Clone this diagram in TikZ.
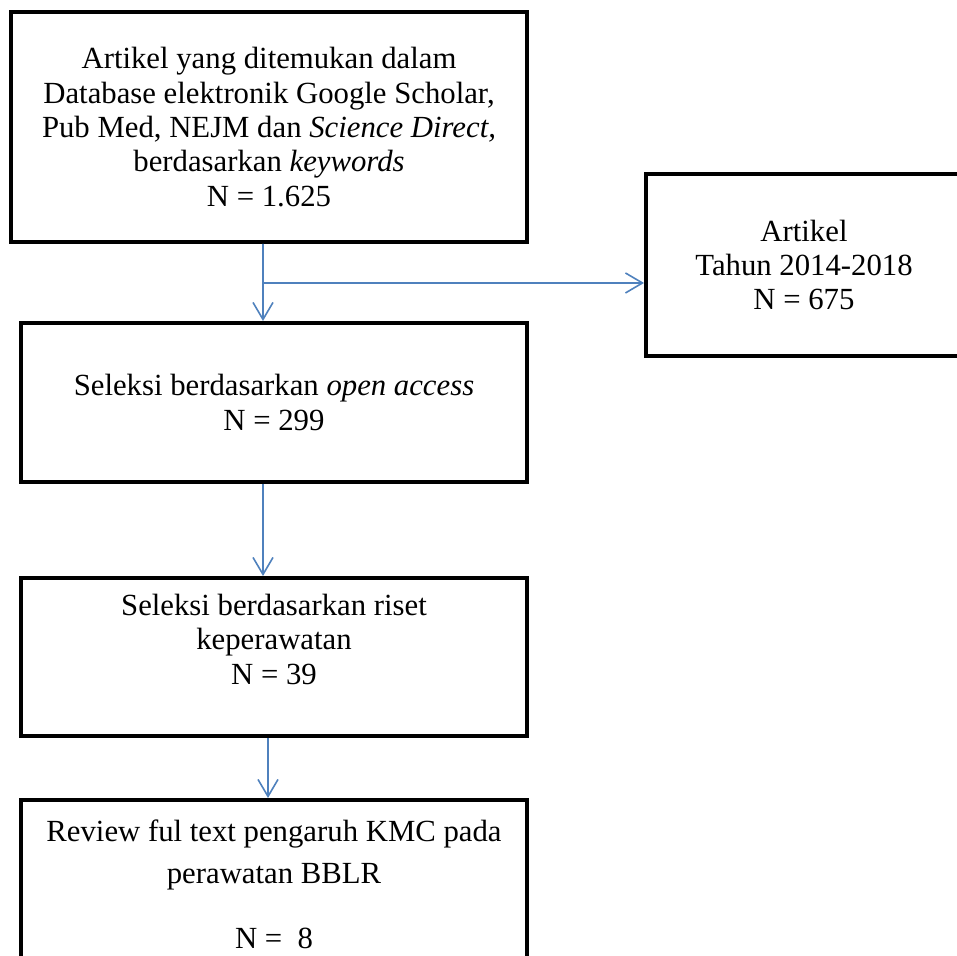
\documentclass[tikz,border=0pt]{standalone}
\usepackage{fontspec}
\setmainfont{Liberation Serif}
\usetikzlibrary{arrows.meta,positioning}
\definecolor{garisbiru}{RGB}{79,129,189}
\tikzset{
  box/.style={draw=black, line width=0.08cm, rectangle, inner sep=0pt, align=center,
    font=\fontsize{17.5}{19.6}\selectfont},
  arrow/.style={draw=garisbiru, line width=0.032cm,
    arrows={-Straight Barb[length=0.34cm,width=0.4cm]}}
}

\begin{document}
\begin{tikzpicture}[x=0.02cm, y=-0.02cm]
\useasboundingbox (0, 0) rectangle (957, 956);
\clip (0, 0) rectangle (957, 956);

\node[box, minimum width=10.32cm, minimum height=4.6cm] (artikel) at (269, 127)
  {Artikel yang ditemukan dalam\\Database elektronik Google Scholar,\\Pub Med, NEJM dan \textit{Science Direct,}\\berdasarkan \textit{keywords}\\N = 1.625};
\node[box, minimum width=6.32cm, minimum height=3.64cm] (tahun) at (804, 265)
  {Artikel\\Tahun 2014-2018\\N = 675};
\node[box, minimum width=10.12cm, minimum height=3.18cm] (akses) at (274, 402.5)
  {Seleksi berdasarkan \textit{open access}\\N = 299};
\node[box, minimum width=10.12cm, minimum height=3.16cm, text depth=0.72cm] (riset) at (274, 657)
  {Seleksi berdasarkan riset\\keperawatan\\N = 39};
\node[box, minimum width=10.12cm, minimum height=3.36cm] (review) at (274, 884)
  {Review ful text pengaruh KMC pada\\[0.15cm]perawatan BBLR\\[0.61cm]N = \ 8};

\coordinate (cabang) at ([shift={(-0.12cm,-0.78cm)}]artikel.south);
\draw[arrow] ([xshift=-0.12cm]artikel.south) -- ([xshift=-0.22cm]akses.north);
\draw[arrow] (cabang) -- (cabang -| tahun.west);
\draw[arrow] ([xshift=-0.22cm]akses.south) -- ([xshift=-0.22cm]riset.north);
\draw[arrow] ([xshift=-0.12cm]riset.south) -- ([xshift=-0.12cm]review.north);

\end{tikzpicture}
\end{document}
